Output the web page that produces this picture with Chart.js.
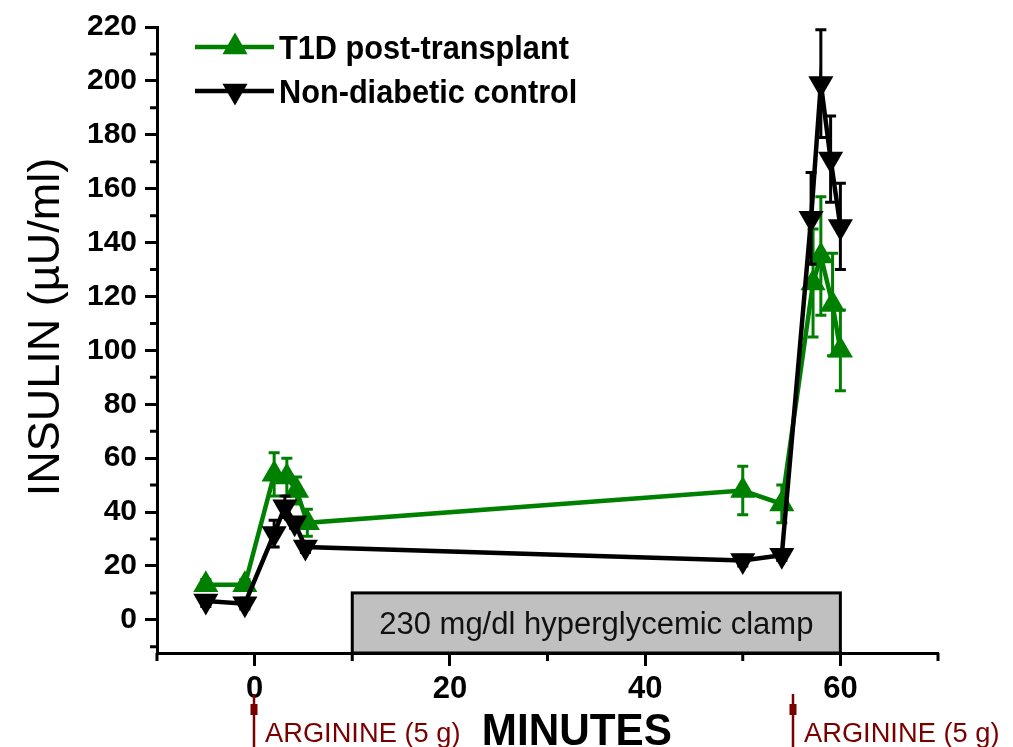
<!DOCTYPE html>
<html>
<head>
<meta charset="utf-8">
<script src="https://cdn.jsdelivr.net/npm/chart.js@4.4.1/dist/chart.umd.min.js"></script>
<style>
  html, body { margin: 0; padding: 0; background: #fff; }
  #wrap { width: 1013px; height: 747px; position: relative; }
</style>
</head>
<body>
<div id="wrap"><canvas id="c"></canvas></div>
<script>
// Insulin during a 230 mg/dl hyperglycemic clamp with arginine stimulation
const t1dMinutes = [-5, -1, 2, 3.3, 4.3, 5.4, 50, 54, 57.2, 58, 59.2, 60];
const t1dInsulin = [13, 13, 54, 53, 48, 36, 48, 43, 125, 135, 117, 100];
const t1dSem     = [2, 2, 8, 7, 5, 5, 9, 7, 20, 22, 19, 15];

const controlMinutes = [-5, -1, 2, 3.1, 4.1, 5.2, 50, 54, 57, 58, 59, 60];
const controlInsulin = [7, 6, 32, 42, 36, 27, 22, 24, 149, 199, 171, 146];
const controlSem     = [2, 2, 5, 4, 2, 2, 2, 2, 17, 20, 16, 16];

const xMajorTicks = [0, 20, 40, 60];
const xMinorTicks = [-10, 10, 30, 50, 70];
const yMajorTicks = [0, 20, 40, 60, 80, 100, 120, 140, 160, 180, 200, 220];
const yMinorTicks = [-10, 10, 30, 50, 70, 90, 110, 130, 150, 170, 190, 210];

const clampWindow = [10, 60];       // minutes
const clampLabel = '230 mg/dl hyperglycemic clamp';
const arginineMinutes = [0, 55.3];
const arginineLabel = 'ARGININE (5 g)';
const yTitle = 'INSULIN (µU/ml)';
const xTitle = 'MINUTES';

const GREEN = '#008000';
const BLACK = '#000000';
const ARG_RED = '#7a0000';
const FONT = "'Liberation Sans', Arial, Helvetica, sans-serif";
const MARKER_R = 14.5;

function toPoints(xs, ys) { return xs.map((x, i) => ({ x: x, y: ys[i] })); }

function drawText(ctx, text, x, y, font, color, sx, align) {
  ctx.save();
  ctx.font = font;
  ctx.fillStyle = color;
  ctx.textBaseline = 'alphabetic';
  ctx.translate(x, y);
  ctx.scale(sx, 1);
  ctx.textAlign = align || 'left';
  ctx.fillText(text, 0, 0);
  ctx.restore();
}

function drawTriangle(ctx, x, y, r, down, color) {
  ctx.save();
  ctx.fillStyle = color;
  ctx.beginPath();
  const s = down ? -1 : 1;
  ctx.moveTo(x, y - s * r);
  ctx.lineTo(x + r * Math.sin(2 * Math.PI / 3), y + s * r / 2);
  ctx.lineTo(x - r * Math.sin(2 * Math.PI / 3), y + s * r / 2);
  ctx.closePath();
  ctx.fill();
  ctx.restore();
}

// shaded clamp window sitting on the time axis
const clampBox = {
  id: 'clampBox',
  beforeDatasetsDraw(chart) {
    const { ctx, scales: { x, y } } = chart;
    const x0 = x.getPixelForValue(clampWindow[0]);
    const x1 = x.getPixelForValue(clampWindow[1]);
    const yTop = y.getPixelForValue(10);
    const yBot = chart.chartArea.bottom;
    ctx.save();
    ctx.fillStyle = '#c0c0c0';
    ctx.fillRect(x0, yTop, x1 - x0, yBot - yTop);
    ctx.strokeStyle = '#000';
    ctx.lineWidth = 3;
    ctx.strokeRect(x0, yTop, x1 - x0, yBot - yTop);
    ctx.restore();
    drawText(ctx, clampLabel, (x0 + x1) / 2, (yTop + yBot) / 2 + 11,
      'normal 31px ' + FONT, '#111', 1, 'center');
  }
};

// mean ± SEM whiskers, drawn just under each series
const errorBars = {
  id: 'errorBars',
  beforeDatasetDraw(chart, args) {
    const ds = chart.data.datasets[args.index];
    if (!ds.errors) return;
    const { ctx, scales: { x, y } } = chart;
    ctx.save();
    ctx.strokeStyle = ds.borderColor;
    ctx.lineWidth = 3;
    ds.data.forEach((p, i) => {
      const e = ds.errors[i];
      const px = x.getPixelForValue(p.x);
      const yHi = y.getPixelForValue(p.y + e);
      const yLo = y.getPixelForValue(p.y - e);
      ctx.beginPath();
      ctx.moveTo(px, yHi); ctx.lineTo(px, yLo);
      ctx.moveTo(px - 5.5, yHi); ctx.lineTo(px + 5.5, yHi);
      ctx.moveTo(px - 5.5, yLo); ctx.lineTo(px + 5.5, yLo);
      ctx.stroke();
    });
    ctx.restore();
  }
};

// short minor ticks between the labelled ones
const minorTicks = {
  id: 'minorTicks',
  afterDraw(chart) {
    const { ctx, chartArea, scales: { x, y } } = chart;
    ctx.save();
    ctx.strokeStyle = '#000';
    ctx.lineWidth = 3;
    ctx.beginPath();
    xMinorTicks.forEach(v => {
      const px = x.getPixelForValue(v);
      ctx.moveTo(px, chartArea.bottom); ctx.lineTo(px, chartArea.bottom + 8);
    });
    yMinorTicks.forEach(v => {
      const py = y.getPixelForValue(v);
      if (py > chartArea.bottom) return;
      ctx.moveTo(chartArea.left, py); ctx.lineTo(chartArea.left - 7, py);
    });
    ctx.stroke();
    ctx.restore();
  }
};

// legend, axis captions and arginine markers
const annotations = {
  id: 'annotations',
  afterDraw(chart) {
    const { ctx, scales: { x } } = chart;
    const rows = [
      { label: 'T1D post-transplant', color: GREEN, down: false, y: 47 },
      { label: 'Non-diabetic control', color: BLACK, down: true, y: 91 }
    ];
    rows.forEach(r => {
      ctx.save();
      ctx.strokeStyle = r.color;
      ctx.lineWidth = 4.5;
      ctx.beginPath();
      ctx.moveTo(195, r.y); ctx.lineTo(274, r.y);
      ctx.stroke();
      ctx.restore();
      drawTriangle(ctx, 235, r.y, MARKER_R, r.down, r.color);
      drawText(ctx, r.label, 279, r.y + 12, 'bold 33px ' + FONT, '#000', 0.93, 'left');
    });

    // rotated y-axis caption
    ctx.save();
    ctx.translate(59, 327);
    ctx.rotate(-Math.PI / 2);
    ctx.font = 'normal 45px ' + FONT;
    ctx.fillStyle = '#000';
    ctx.textAlign = 'center';
    ctx.textBaseline = 'alphabetic';
    ctx.fillText(yTitle, 0, 0);
    ctx.restore();

    arginineMinutes.forEach(t => {
      const px = Math.round(x.getPixelForValue(t)) - 1;
      ctx.save();
      ctx.strokeStyle = ARG_RED;
      ctx.fillStyle = ARG_RED;
      ctx.lineWidth = 2.5;
      ctx.beginPath();
      ctx.moveTo(px, 694); ctx.lineTo(px, 747);
      ctx.stroke();
      ctx.fillRect(px - 3.5, 704, 7, 11);
      ctx.restore();
      drawText(ctx, arginineLabel, px + 11, 742, 'normal 27px ' + FONT, ARG_RED, 1.01, 'left');
    });

    drawText(ctx, xTitle, x.getPixelForValue(33), 745, 'bold 44px ' + FONT, '#000', 0.96, 'center');
  }
};

new Chart(document.getElementById('c'), {
  type: 'line',
  data: {
    datasets: [
      {
        label: 'Non-diabetic control',
        data: toPoints(controlMinutes, controlInsulin),
        errors: controlSem,
        borderColor: BLACK,
        backgroundColor: BLACK,
        borderWidth: 4.5,
        tension: 0,
        pointStyle: 'triangle',
        rotation: 180,
        pointRadius: MARKER_R,
        pointBorderWidth: 0,
        pointBackgroundColor: BLACK,
        order: 0,
        clip: false
      },
      {
        label: 'T1D post-transplant',
        data: toPoints(t1dMinutes, t1dInsulin),
        errors: t1dSem,
        borderColor: GREEN,
        backgroundColor: GREEN,
        borderWidth: 4.5,
        tension: 0,
        pointStyle: 'triangle',
        rotation: 0,
        pointRadius: MARKER_R,
        pointBorderWidth: 0,
        pointBackgroundColor: GREEN,
        order: 1,
        clip: false
      }
    ]
  },
  options: {
    responsive: true,
    maintainAspectRatio: false,
    animation: false,
    layout: { padding: { top: 27, right: 75, left: 0, bottom: 0 } },
    plugins: { legend: { display: false }, tooltip: { enabled: false } },
    scales: {
      x: {
        type: 'linear',
        min: -10,
        max: 70,
        afterBuildTicks: s => { s.ticks = xMajorTicks.map(v => ({ value: v })); },
        afterFit: s => { s.height = 94; },
        border: { display: true, color: '#000', width: 3 },
        grid: { drawOnChartArea: false, drawTicks: true, tickLength: 13, tickWidth: 3, tickColor: '#000' },
        ticks: { color: '#000', padding: 5, maxRotation: 0, font: { family: FONT, size: 31, weight: 'bold' } }
      },
      y: {
        type: 'linear',
        min: -12.3,
        max: 220,
        afterBuildTicks: s => { s.ticks = yMajorTicks.map(v => ({ value: v })); },
        afterFit: s => { s.width = 157; },
        border: { display: true, color: '#000', width: 3 },
        grid: { drawOnChartArea: false, drawTicks: true, tickLength: 12, tickWidth: 3, tickColor: '#000' },
        ticks: { color: '#000', padding: 8, font: { family: FONT, size: 30, weight: 'bold' } }
      }
    }
  },
  plugins: [clampBox, errorBars, minorTicks, annotations]
});
</script>
</body>
</html>
